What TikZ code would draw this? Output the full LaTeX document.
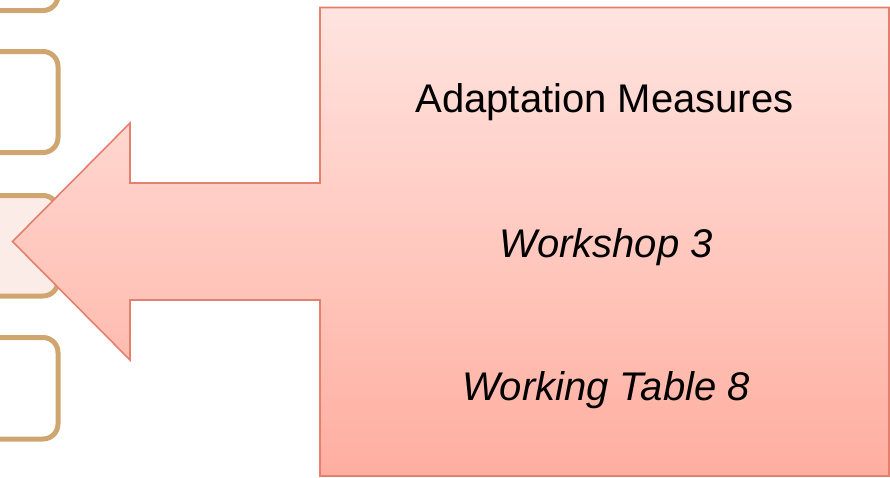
\documentclass[tikz,border=0pt]{standalone}
\usepackage{fontspec}
\setmainfont{Liberation Sans}
\definecolor{tanline}{HTML}{D0A670}
\definecolor{softfill}{HTML}{FCECE8}
\definecolor{arrowline}{HTML}{E5806F}
\definecolor{arrowtop}{HTML}{FFE4DF}
\definecolor{arrowbottom}{HTML}{FFAEA0}
\tikzset{
  stagebox/.style={draw=tanline, line width=5pt, rounded corners=15pt},
  measuretext/.style={font=\fontsize{40}{47}\selectfont, anchor=base, inner sep=0pt},
}
\begin{document}
\begin{tikzpicture}[x=1pt, y=-1pt]
  \useasboundingbox (0,0) rectangle (890,477);
  \clip (0,0) rectangle (890,477);
  % stage boxes running off the left edge
  \draw[stagebox] (-60,-91) rectangle (58,10.5);
  \draw[stagebox] (-60,51.5) rectangle (58,152.5);
  \draw[stagebox, fill=softfill] (-60,195.5) rectangle (58,296);
  \draw[stagebox] (-60,337.5) rectangle (58,439);
  % callout pointing left
  \shade[top color=arrowtop, bottom color=arrowbottom]
    (320,7.5) -- (889,7.5) -- (889,476) -- (320,476) -- (320,300) -- (130,300)
    -- (130,360) -- (12.5,241.5) -- (130,123) -- (130,183) -- (320,183) -- cycle;
  \draw[arrowline, line width=1.6pt, line join=miter]
    (320,7.5) -- (889,7.5) -- (889,476) -- (320,476) -- (320,300) -- (130,300)
    -- (130,360) -- (12.5,241.5) -- (130,123) -- (130,183) -- (320,183) -- cycle;
  \node[measuretext] (title) at (604.5,112) {Adaptation Measures};
  \node[measuretext] (workshop) at (606,257) {\itshape Workshop 3};
  \node[measuretext] (table) at (606,400) {\itshape Working Table 8};
\end{tikzpicture}
\end{document}
